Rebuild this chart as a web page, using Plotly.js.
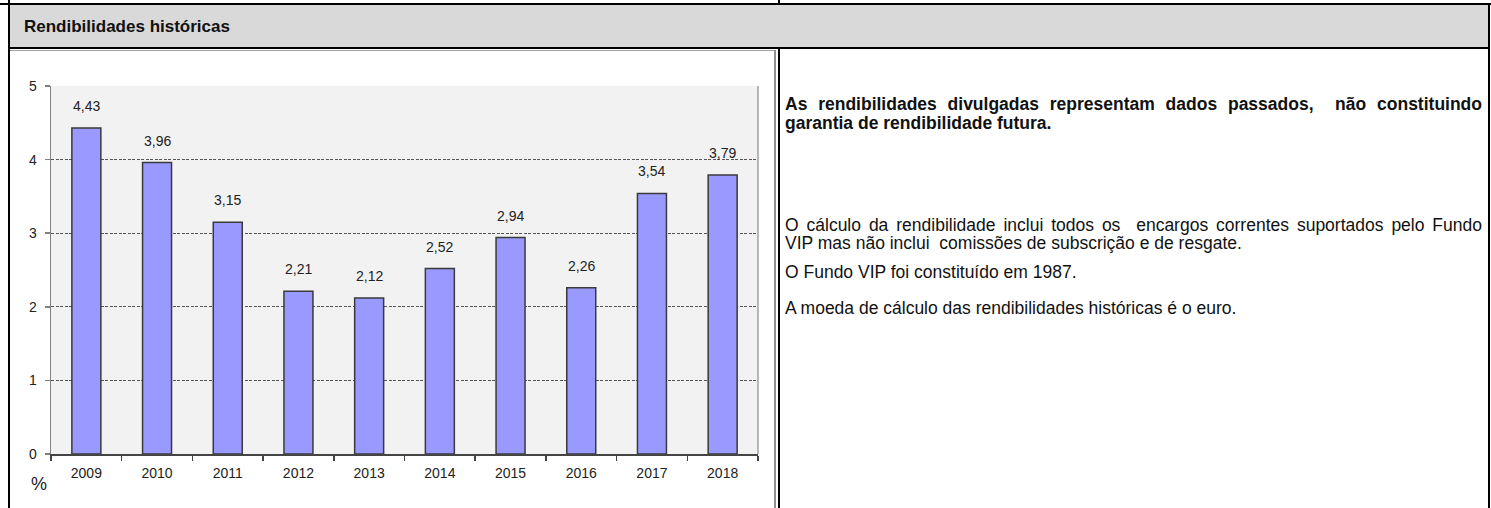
<!DOCTYPE html>
<html>
<head>
<meta charset="utf-8">
<script src="https://cdn.plot.ly/plotly-3.0.1.min.js"></script>
<style>
  html, body { margin:0; padding:0; background:#fff; }
  body { width:1491px; height:508px; position:relative; overflow:hidden;
         font-family:"Liberation Sans",Arial,sans-serif; color:#111; }
  .abs { position:absolute; }
  .line { position:absolute; white-space:nowrap; }
  .just { text-align:justify; text-align-last:justify; white-space:normal; }
</style>
</head>
<body>
<!-- table frame -->
<div class="abs" style="left:0;top:3px;width:1491px;height:2px;background:#000"></div>
<div class="abs" style="left:8px;top:0;width:2px;height:508px;background:#000"></div>
<div class="abs" style="left:1488px;top:3px;width:2px;height:505px;background:#000"></div>
<div class="abs" style="left:778px;top:0;width:2px;height:4px;background:#000"></div>
<div class="abs" style="left:10px;top:5px;width:1478px;height:43px;background:#D9D9D9"></div>
<div class="abs" style="left:8px;top:47px;width:1482px;height:2px;background:#000"></div>
<div class="abs" style="left:778px;top:49px;width:2px;height:459px;background:#000"></div>
<!-- chart image border -->
<div class="abs" style="left:10px;top:50px;width:765px;height:1px;background:#A0A0A0"></div>
<div class="abs" style="left:774px;top:50px;width:2px;height:458px;background:#909090"></div>

<div class="line" style="left:24px;top:17px;font-size:17px;font-weight:bold;line-height:20px;">Rendibilidades históricas</div>

<div id="chart" class="abs" style="left:10px;top:51px;width:764px;height:457px;"></div>

<!-- right cell text -->
<div class="line just" style="left:785px;top:94px;width:697px;font-size:17.5px;font-weight:bold;line-height:20px;">As rendibilidades divulgadas representam dados passados,&nbsp; não constituindo</div>
<div class="line" style="left:785px;top:113px;font-size:17.5px;font-weight:bold;line-height:20px;">garantia de rendibilidade futura.</div>

<div class="line just" style="left:785px;top:215px;width:697px;font-size:17.5px;line-height:20px;">O cálculo da rendibilidade inclui todos os&nbsp; encargos correntes suportados pelo Fundo</div>
<div class="line" style="left:785px;top:233px;font-size:17.5px;line-height:20px;">VIP mas não inclui&nbsp; comissões de subscrição e de resgate.</div>
<div class="line" style="left:785px;top:262px;font-size:17.5px;line-height:20px;">O Fundo VIP foi constituído em 1987.</div>
<div class="line" style="left:785px;top:298px;font-size:17.5px;line-height:20px;">A moeda de cálculo das rendibilidades históricas é o euro.</div>

<script>
const years = ["2009","2010","2011","2012","2013","2014","2015","2016","2017","2018"];
const returns = [4.43, 3.96, 3.15, 2.21, 2.12, 2.52, 2.94, 2.26, 3.54, 3.79];
const yTicks = [0, 1, 2, 3, 4, 5];
const unitLabel = "%";

const chartFont = "Liberation Sans, Arial, sans-serif";
const fmt = v => v.toFixed(2).replace(".", ",");

Plotly.newPlot("chart", [{
  type: "bar",
  x: years,
  y: returns,
  marker: { color: "#9999FF", line: { color: "#3A3A3A", width: 1.5 } },
  hoverinfo: "skip"
}], {
  width: 764, height: 457,
  margin: { l: 41, r: 16, t: 35, b: 54 },
  paper_bgcolor: "#FFFFFF",
  plot_bgcolor: "#F2F2F2",
  separators: ",.",
  bargap: 0.59,
  showlegend: false,
  font: { family: chartFont, size: 14, color: "#222" },
  xaxis: {
    type: "category",
    categoryorder: "array", categoryarray: years,
    range: [-0.5, years.length - 0.5],
    showgrid: false,
    showline: true, linecolor: "#444", linewidth: 1.5,
    ticks: "outside", tickson: "boundaries", ticklen: 5, tickcolor: "#444", tickwidth: 1.5,
    tickfont: { family: chartFont, size: 14, color: "#222" },
    ticklabelstandoff: 6,
    tickangle: 0,
    zeroline: false
  },
  yaxis: {
    range: [0, 5], tickvals: yTicks, ticktext: yTicks.map(String),
    showgrid: true, gridcolor: "#555", gridwidth: 1, griddash: "3px,1.5px",
    showline: true, linecolor: "#808080", linewidth: 1.5,
    ticks: "outside", ticklen: 5, tickcolor: "#808080", tickwidth: 1.5,
    tickfont: { family: chartFont, size: 14, color: "#222" },
    ticklabelstandoff: 5,
    zeroline: false
  },
  shapes: [{ type: "line", xref: "paper", yref: "paper", x0: 1, x1: 1, y0: 0, y1: 1,
             line: { color: "#A0A0A0", width: 1.5 } }],
  annotations: years.map((yr, i) => ({
      text: fmt(returns[i]), x: i, y: returns[i], xref: "x", yref: "y",
      xanchor: "center", yanchor: "bottom", yshift: 12, showarrow: false,
      font: { family: chartFont, size: 14, color: "#222" }
    })).concat([{ text: unitLabel, xref: "paper", yref: "paper", x: -0.017, y: -0.082,
                  xanchor: "center", yanchor: "middle", showarrow: false,
                  font: { family: chartFont, size: 18, color: "#222" } }])
}, { staticPlot: true, displayModeBar: false });
</script>
</body>
</html>
